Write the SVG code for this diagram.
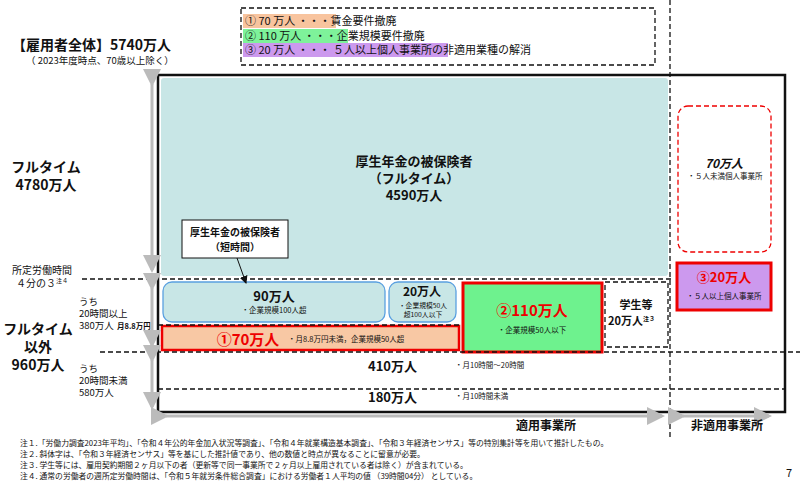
<svg xmlns="http://www.w3.org/2000/svg" width="800" height="483" viewBox="0 0 800 483">
<style>
text{font-family:"Noto Sans CJK JP","Noto Sans",sans-serif;fill:#111}
.b{font-weight:bold}
.dash{stroke:#111;stroke-width:1.3;stroke-dasharray:5,3;fill:none}
.red{fill:#e00}
.s{font-size:7.5px}
.n{font-size:7.8px}
</style>
<defs>
<marker id="ga" markerWidth="6" markerHeight="6" refX="5" refY="3" orient="auto" markerUnits="strokeWidth"><path d="M0,0 L6,3 L0,6 z" fill="#bbb"/></marker>
<marker id="ka" markerWidth="8" markerHeight="8" refX="7" refY="4" orient="auto" markerUnits="userSpaceOnUse"><path d="M0,0 L8,4 L0,8 z" fill="#111"/></marker>
</defs>
<rect width="800" height="483" fill="#fff"/>
<g id="legend">
<rect x="241" y="8" width="414" height="57" class="dash"/>
<rect x="243" y="14" width="93" height="14" fill="#f8c49e"/>
<rect x="243" y="29" width="105" height="14" fill="#7ef29a"/>
<rect x="243" y="43" width="205" height="14" fill="#cc99ee"/>
<text x="245" y="25" font-size="11">①  70 万人 ・・・賃金要件撤廃</text>
<text x="245" y="40" font-size="11">② 110 万人 ・・・企業規模要件撤廃</text>
<text x="245" y="54" font-size="11">③  20 万人 ・・・ ５人以上個人事業所の非適用業種の解消</text>
</g>
<g id="left-labels">
<text x="12" y="50" font-size="14" class="b">【雇用者全体】5740万人</text>
<text x="26" y="64" font-size="9.5">（ 2023年度時点、70歳以上除く）</text>
<text x="46" y="172" font-size="14" class="b" text-anchor="middle">フルタイム</text>
<text x="46" y="190" font-size="14" class="b" text-anchor="middle">4780万人</text>
<text x="12" y="274" font-size="10">所定労働時間</text>
<text x="16" y="287" font-size="10">４分の３<tspan font-size="6" dy="-4">注４</tspan></text>
<text x="79" y="305" font-size="9.5">うち</text>
<text x="79" y="317" font-size="9.5">20時間以上</text>
<text x="79" y="329" font-size="9.5">380万人</text>
<text x="117" y="329" font-size="7.5" class="b">月8.8万円</text>
<text x="38" y="334" font-size="14" class="b" text-anchor="middle">フルタイム</text>
<text x="38" y="352" font-size="14" class="b" text-anchor="middle">以外</text>
<text x="38" y="370" font-size="14" class="b" text-anchor="middle">960万人</text>
<text x="79" y="372" font-size="9.5">うち</text>
<text x="79" y="384" font-size="9.5">20時間未満</text>
<text x="79" y="396" font-size="9.5">580万人</text>
</g>
<rect id="frame" x="158" y="75" width="627" height="337" fill="none" stroke="#111" stroke-width="2.5"/>
<g id="fulltime">
<rect x="161" y="78" width="507" height="198" rx="3" fill="#c8e6e6"/>
<text x="414" y="166" font-size="13" class="b" text-anchor="middle">厚生年金の被保険者</text>
<text x="414" y="183" font-size="13" class="b" text-anchor="middle">（フルタイム）</text>
<text x="414" y="200" font-size="13" class="b" text-anchor="middle">4590万人</text>
</g>
<g id="callout">
<rect x="182" y="220" width="106" height="38" fill="#fff" stroke="#111" stroke-width="1"/>
<text x="235" y="236" font-size="10" class="b" text-anchor="middle">厚生年金の被保険者</text>
<text x="235" y="251" font-size="10" class="b" text-anchor="middle">（短時間）</text>
</g>
<g id="n90">
<rect x="163" y="282" width="222" height="40" rx="9" fill="#c8e6e6" stroke="#5aa0e0" stroke-width="1.3"/>
<text x="274" y="301" font-size="13" class="b" text-anchor="middle">90万人</text>
<text x="274" y="313" class="s" text-anchor="middle">・企業規模100人超</text>
</g>
<g id="n20a">
<rect x="389" y="282" width="67" height="40" rx="9" fill="#c8e6e6" stroke="#5aa0e0" stroke-width="1.3"/>
<text x="422" y="296" font-size="12" class="b" text-anchor="middle">20万人</text>
<text x="423" y="308" font-size="6.8" text-anchor="middle">・企業規模50人</text>
<text x="423" y="317" font-size="6.8" text-anchor="middle">超100人以下</text>
</g>
<g id="n70">
<rect x="162" y="326" width="297" height="24" fill="#f8c8a4" stroke="#e00" stroke-width="2.5"/>
<text x="248" y="345" font-size="15" class="b red" text-anchor="middle">①70万人</text>
<text x="288" y="342" class="s">・月8.8万円未満，企業規模50人超</text>
</g>
<g id="n110">
<rect x="463" y="283" width="139" height="69" fill="#6ef28e" stroke="#e00" stroke-width="3"/>
<text x="532" y="316" font-size="15" class="b red" text-anchor="middle">②110万人</text>
<text x="532" y="333" class="s" text-anchor="middle">・企業規模50人以下</text>
</g>
<g id="student">
<rect x="605" y="282" width="63" height="65" class="dash"/>
<text x="636" y="309" font-size="11" class="b" text-anchor="middle">学生等</text>
<text x="608" y="325" font-size="11" class="b">20万人<tspan font-size="6" dy="-4">注３</tspan></text>
</g>
<g id="n70b">
<rect x="678" y="106" width="93" height="146" rx="10" fill="none" stroke="#e00" stroke-width="1.3" stroke-dasharray="5,3"/>
<text x="724" y="168" font-size="12" class="b" font-style="italic" text-anchor="middle">70万人</text>
<text x="725" y="179" class="s" text-anchor="middle">・５人未満個人事業所</text>
</g>
<g id="n20b">
<rect x="677" y="263" width="94" height="47" fill="#cc99ee" stroke="#e00" stroke-width="3"/>
<text x="724" y="282" font-size="13" class="b red" text-anchor="middle">③20万人</text>
<text x="724" y="299" class="s" text-anchor="middle">・５人以上個人事業所</text>
</g>
<g id="connectors">
<line x1="670" y1="0" x2="670" y2="440" class="dash"/>
<line x1="82" y1="279" x2="672" y2="279" class="dash"/>
<line x1="100" y1="352" x2="800" y2="352" class="dash"/>
<line x1="158" y1="389" x2="785" y2="389" class="dash"/>
<line x1="158" y1="325" x2="460" y2="325" class="dash"/>
<g stroke="#bbb" stroke-width="3" marker-end="url(#ga)" marker-start="url(#ga)">
<line x1="152" y1="84" x2="152" y2="270"/>
<line x1="152" y1="288" x2="152" y2="345"/>
<line x1="152" y1="360" x2="152" y2="407"/>
<line x1="166" y1="416" x2="662" y2="416"/>
<line x1="683" y1="416" x2="769" y2="416"/>
</g>
<line x1="237" y1="258" x2="246" y2="283" stroke="#111" stroke-width="1" marker-end="url(#ka)"/>
</g>
<g id="bottom-rows">
<text x="368" y="371" font-size="13" class="b">410万人</text>
<text x="455" y="368" class="s">・月10時間～20時間</text>
<text x="368" y="402" font-size="13" class="b">180万人</text>
<text x="455" y="399" class="s">・月10時間未満</text>
</g>
<text x="546" y="430" font-size="12" class="b" text-anchor="middle">適用事業所</text>
<text x="727" y="430" font-size="12" class="b" text-anchor="middle">非適用事業所</text>
<g id="notes">
<text x="20" y="446" class="n">注１.「労働力調査2023年平均」、「令和４年公的年金加入状況等調査」、「令和４年就業構造基本調査」、「令和３年経済センサス」等の特別集計等を用いて推計したもの。</text>
<text x="20" y="457" class="n">注２. 斜体字は、「令和３年経済センサス」等を基にした推計値であり、他の数値と時点が異なることに留意が必要。</text>
<text x="20" y="468" class="n">注３. 学生等には、雇用契約期間２ヶ月以下の者（更新等で同一事業所で２ヶ月以上雇用されている者は除く）が含まれている。</text>
<text x="20" y="479" class="n">注４. 通常の労働者の週所定労働時間は、「令和５年就労条件総合調査」における労働者１人平均の値 （39時間04分） としている。</text>
<text x="786" y="477" font-size="11">7</text>
</g>
</svg>
